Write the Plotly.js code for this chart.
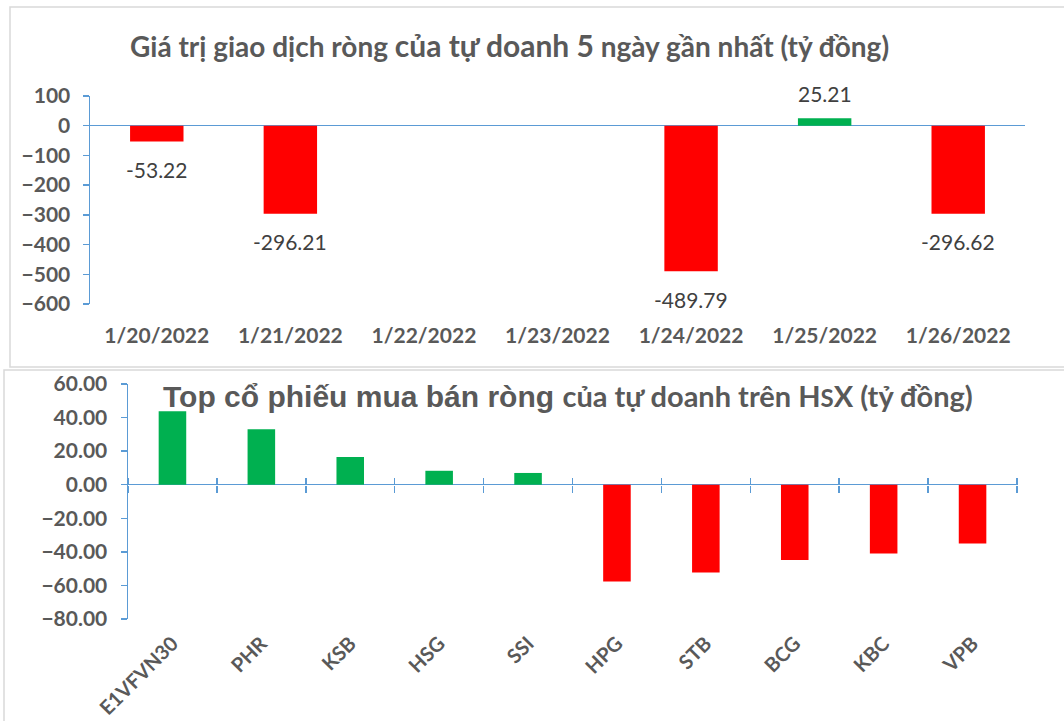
<!DOCTYPE html>
<html>
<head>
<meta charset="utf-8">
<script src="https://cdn.plot.ly/plotly-3.0.1.min.js"></script>
<style>html,body{margin:0;padding:0;background:#fff;}#chart{width:1064px;height:721px;}</style>
</head>
<body>
<div id="chart"></div>
<script>
// ---- Top chart data ----
const dates = ["1/20/2022", "1/21/2022", "1/22/2022", "1/23/2022", "1/24/2022", "1/25/2022", "1/26/2022"];
const netValues = [-53.22, -296.21, null, null, -489.79, 25.21, -296.62];

// ---- Bottom chart data ----
const tickers = ["E1VFVN30", "PHR", "KSB", "HSG", "SSI", "HPG", "STB", "BCG", "KBC", "VPB"];
const tickerValues = [43.7, 33.0, 16.5, 8.3, 7.0, -57.7, -52.3, -44.8, -41.0, -35.0];

const topTicks = [100, 0, -100, -200, -300, -400, -500, -600];

const RED = "#FF0000", GREEN = "#00B050", AXIS = "#5B9BD5", GREY = "#595959";
const colorOf = v => (v < 0 ? RED : GREEN);

const W = 1064, H = 721;
const px = x => x / W;
const py = y => 1 - y / H;

const traces = [
  {
    type: "bar", x: dates, y: netValues, xaxis: "x", yaxis: "y",
    marker: {color: netValues.map(v => colorOf(v))}, width: 0.4,
    hoverinfo: "x+y", showlegend: false
  },
  {
    type: "bar", x: tickers, y: tickerValues, xaxis: "x2", yaxis: "y2",
    marker: {color: tickerValues.map(colorOf)}, width: 0.31,
    hoverinfo: "x+y", showlegend: false
  },
  {
    type: "bar", x: tickers, y: tickerValues, xaxis: "x3", yaxis: "y2",
    marker: {color: "rgba(0,0,0,0)"}, width: 0.31, hoverinfo: "skip", showlegend: false
  },
  {
    type: "bar", x: tickers, y: tickerValues, xaxis: "x4", yaxis: "y2",
    marker: {color: "rgba(0,0,0,0)"}, width: 0.31, hoverinfo: "skip", showlegend: false
  }
];

const annotations = [];
dates.forEach((d, i) => {
  const v = netValues[i];
  if (v === null) return;
  annotations.push({
    x: d, y: v, xref: "x", yref: "y", text: v.toFixed(2), showarrow: false,
    yshift: v < 0 ? -28 : 25,
    font: {family: "Lato, sans-serif", size: 21, color: "#404040"}
  });
});

annotations.push({
  xref: "paper", yref: "paper", x: px(509), y: py(45), xanchor: "center", yanchor: "middle",
  showarrow: false,
  text: "Giá trị giao dịch ròng <span style='font-size:30px'>của tự doanh 5</span> ngày gần nhất (tỷ đồng)",
  font: {family: "Lato, sans-serif", size: 28, color: GREY, weight: "bold"}
});
annotations.push({
  xref: "paper", yref: "paper", x: px(568), y: py(395), xanchor: "center", yanchor: "middle",
  showarrow: false,
  text: "Top cổ phiếu mua bán ròng <span style='font-family:Lato;font-size:29px'>của tự doanh trên H<span style='font-size:24px'>S</span>X (tỷ đồng)</span>",
  font: {family: "Liberation Sans, Arial, sans-serif", size: 30, color: GREY, weight: "bold"}
});

const tickFont = {family: "Lato, sans-serif", size: 21, color: GREY, weight: "bold"};
const catFont = {family: "Lato, sans-serif", size: 20, color: GREY, weight: "bold"};
const zeroPos = py(485);

const layout = {
  width: W, height: H,
  margin: {l: 0, r: 0, t: 0, b: 0},
  paper_bgcolor: "#ffffff", plot_bgcolor: "rgba(0,0,0,0)",
  showlegend: false,
  xaxis: {
    domain: [px(90), px(1025)], anchor: "y", type: "category",
    showline: false, ticks: "", showgrid: false, zeroline: false,
    tickfont: tickFont, ticklabelstandoff: 17, fixedrange: true
  },
  yaxis: {
    domain: [py(304), py(96)], anchor: "x", range: [-600, 100],
    tickvals: topTicks, ticks: "outside", ticklen: 6, tickcolor: AXIS, tickwidth: 1.5,
    showline: true, linecolor: AXIS, linewidth: 1.5, showgrid: false,
    zeroline: true, zerolinecolor: AXIS, zerolinewidth: 1.5,
    tickfont: tickFont, ticklabelstandoff: 8, fixedrange: true
  },
  xaxis2: {
    domain: [px(128), px(1017)], anchor: "y2", type: "category",
    showline: false, ticks: "", showgrid: false, zeroline: false,
    tickangle: -45, tickfont: catFont, ticklabelstandoff: 8, fixedrange: true
  },
  xaxis3: {
    overlaying: "x2", anchor: "free", position: zeroPos, type: "category",
    showline: false, ticks: "outside", tickson: "boundaries", ticklen: 7, tickwidth: 1.5,
    tickcolor: AXIS, showticklabels: false, showgrid: false, zeroline: false, fixedrange: true
  },
  xaxis4: {
    overlaying: "x2", anchor: "free", position: zeroPos, type: "category", side: "top",
    showline: false, ticks: "outside", tickson: "boundaries", ticklen: 7, tickwidth: 1.5,
    tickcolor: AXIS, showticklabels: false, showgrid: false, zeroline: false, fixedrange: true
  },
  yaxis2: {
    domain: [py(619), py(384)], anchor: "x2", range: [-80, 60], dtick: 20, tickformat: ".2f",
    ticks: "outside", ticklen: 6, tickcolor: AXIS, tickwidth: 1.5,
    showline: true, linecolor: AXIS, linewidth: 1.5, showgrid: false,
    zeroline: true, zerolinecolor: AXIS, zerolinewidth: 1.5,
    tickfont: tickFont, ticklabelstandoff: 9, fixedrange: true
  },
  shapes: [
    {type: "rect", xref: "paper", yref: "paper", x0: px(10), x1: 1.05, y0: py(367), y1: py(7),
     line: {color: "#D9D9D9", width: 1.5}, fillcolor: "rgba(0,0,0,0)", layer: "below"},
    {type: "rect", xref: "paper", yref: "paper", x0: px(4), x1: 1.05, y0: -0.05, y1: py(370),
     line: {color: "#D9D9D9", width: 1.5}, fillcolor: "rgba(0,0,0,0)", layer: "below"}
  ],
  annotations: annotations
};

Plotly.newPlot("chart", traces, layout, {displayModeBar: false, staticPlot: true});
</script>
</body>
</html>
